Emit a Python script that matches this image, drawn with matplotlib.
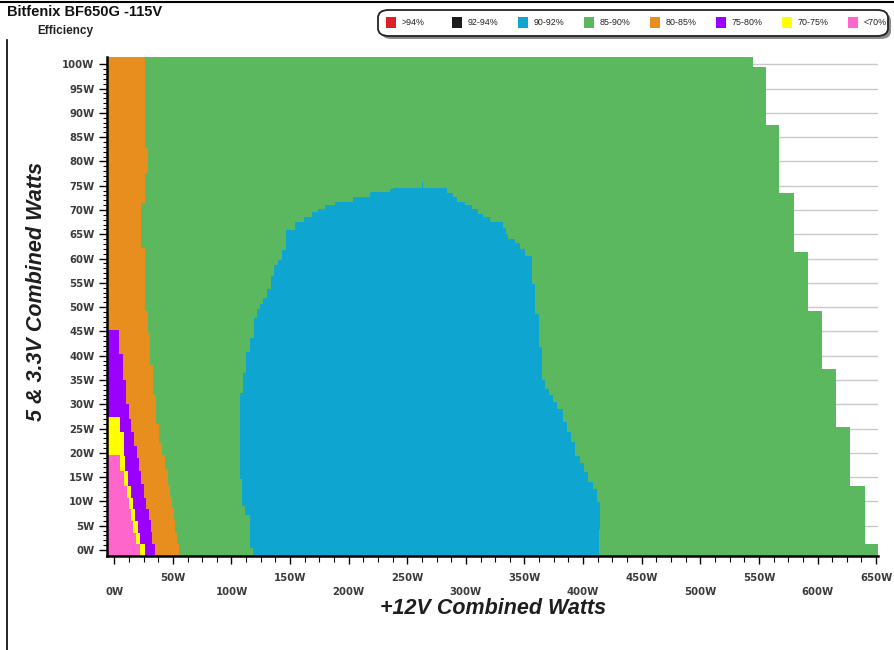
import numpy as np
import matplotlib
matplotlib.use("Agg")
import matplotlib.pyplot as plt
from matplotlib.patches import FancyBboxPatch, Rectangle
from matplotlib.lines import Line2D

# ---------------- data ----------------
TITLE = "Bitfenix BF650G -115V"
SUBTITLE = "Efficiency"
X_LABEL = "+12V Combined Watts"
Y_LABEL = "5 & 3.3V Combined Watts"

LEGEND_LABELS = [">94%", "92-94%", "90-92%", "85-90%", "80-85%", "75-80%", "70-75%", "<70%"]
LEGEND_COLORS = ["#dd1f26", "#1b1b1b", "#0ea5d0", "#5cb85f", "#e88e1f", "#9a00ff", "#ffff00", "#ff66cc"]

X_TICKS = list(range(0, 651, 50))
Y_TICKS = list(range(0, 101, 5))

# Each region boundary is a step function of the 5V&3.3V load:
# *_Y = edges of the steps (W), *_W = +12V load (W) at which the band ends.
MAX_Y = [-1.25, 1.3, 13.25, 25.3, 37.3, 49.3, 61.3, 73.4, 87.4, 99.4, 101.4]
MAX_W = [651.3, 640.3, 627.7, 615.8, 604.1, 592.2, 580.0, 567.4, 555.8, 544.7]

ORANGE_Y = [-1.25, 1.2, 3.5, 6.2, 8.6, 10.8, 13.4, 16.5, 19.5, 22.0, 26.0, 32.0,
            38.0, 44.6, 49.1, 62.2, 71.4, 77.7, 82.8, 101.4]
ORANGE_W = [55.3, 53.5, 52.0, 50.6, 49.3, 47.6, 45.8, 43.5, 40.8, 38.3, 35.3, 33.0,
            30.6, 29.0, 25.9, 23.0, 25.9, 28.7, 25.9]

PURPLE_Y = [-1.25, 1.2, 3.6, 6.2, 8.4, 10.6, 13.5, 16.2, 19.0, 21.5, 24.2, 27.0,
            30.0, 35.0, 40.3, 45.3]
PURPLE_W = [34.4, 32.2, 31.0, 29.3, 27.4, 25.0, 22.9, 20.9, 19.0, 16.5, 14.5, 12.5,
            10.0, 7.2, 4.3]

YELLOW_Y = [-1.25, 1.2, 3.4, 6.0, 8.4, 10.6, 13.1, 16.2, 19.4, 24.2, 27.4]
YELLOW_W = [25.9, 22.2, 20.2, 18.0, 16.0, 14.0, 12.0, 9.5, 8.0, 4.6]

PINK_Y = [-1.25, 1.2, 3.4, 6.0, 8.4, 10.6, 13.1, 16.2, 19.5]
PINK_W = [22.2, 18.5, 16.4, 14.5, 12.4, 10.8, 8.0, 5.0]

BLUE_LEFT_Y = [-1.25, 0.3, 7.1, 9.1, 14.7, 32.4, 36.5, 40.7, 43.7, 47.7, 49.7, 50.7,
               51.8, 53.8, 56.5, 58.6, 59.6, 61.7, 65.9, 67.6, 68.6, 69.6, 70.3,
               71.0, 71.7, 72.7, 73.8, 74.4, 74.6, 75.7]
BLUE_LEFT_W = [118.3, 115.4, 111.7, 108.9, 106.9, 109.8, 112.6, 116.0, 118.8, 121.7,
               124.5, 126.8, 130.2, 133.6, 136.5, 139.9, 143.0, 146.7, 154.4, 161.5,
               168.6, 174.2, 180.0, 188.5, 204.1, 218.3, 235.4, 238.2, 262.4]

BLUE_RIGHT_Y = [-1.25, 4.3, 9.8, 12.6, 13.9, 16.0, 18.0, 19.4, 22.2, 24.2, 26.3, 29.1,
                30.4, 31.8, 33.2, 34.9, 41.7, 48.6, 54.8, 60.6, 62.0, 63.1, 64.1,
                65.1, 66.2, 67.6, 68.6, 69.1, 70.3, 71.0, 71.7, 72.7, 73.4, 74.6, 75.7]
BLUE_RIGHT_W = [413.6, 414.5, 411.7, 408.3, 404.5, 400.9, 397.4, 393.2, 389.5, 386.1,
                382.7, 378.1, 374.7, 371.3, 367.6, 364.8, 362.7, 359.1, 356.2, 350.5,
                346.3, 342.0, 336.0, 334.0, 332.0, 320.6, 315.0, 310.7, 305.0, 299.3,
                292.2, 289.4, 283.7, 263.8]

X_MIN, X_MAX = -6.2, 651.6
Y_MIN, Y_MAX = -1.25, 101.5

# ---------------- figure ----------------
W_PX, H_PX = 894, 650
fig = plt.figure(figsize=(W_PX / 100, H_PX / 100), dpi=100)
fig.patch.set_facecolor("white")


def fx(px):
    return px / W_PX


def fy(py):
    return 1 - py / H_PX


ax = fig.add_axes([fx(107), fy(556), (878 - 107) / W_PX, (556 - 57) / H_PX])
ax.set_xlim(X_MIN, X_MAX)
ax.set_ylim(Y_MIN, Y_MAX)
ax.set_facecolor("white")


def step_band(edges, values, color, z):
    edges = np.asarray(edges, float)
    values = np.asarray(values, float)
    ax.barh(edges[:-1], values - X_MIN, left=X_MIN, height=np.diff(edges),
            align="edge", color=color, linewidth=0, antialiased=False, zorder=z)


step_band(MAX_Y, MAX_W, LEGEND_COLORS[3], 2)
step_band(ORANGE_Y, ORANGE_W, LEGEND_COLORS[4], 3)
step_band(PURPLE_Y, PURPLE_W, LEGEND_COLORS[5], 4)
step_band(YELLOW_Y, YELLOW_W, LEGEND_COLORS[6], 5)
step_band(PINK_Y, PINK_W, LEGEND_COLORS[7], 6)

# blue island: union of the left / right step edges
ly = np.asarray(BLUE_LEFT_Y, float)
ry = np.asarray(BLUE_RIGHT_Y, float)
edges = np.union1d(ly, ry)
lo, hi = edges[:-1], edges[1:]
mid = (lo + hi) / 2
li = np.searchsorted(ly, mid) - 1
ri = np.searchsorted(ry, mid) - 1
lw = np.asarray(BLUE_LEFT_W)[np.clip(li, 0, len(BLUE_LEFT_W) - 1)]
rw = np.asarray(BLUE_RIGHT_W)[np.clip(ri, 0, len(BLUE_RIGHT_W) - 1)]
ok = (li >= 0) & (li < len(BLUE_LEFT_W)) & (ri >= 0) & (ri < len(BLUE_RIGHT_W)) & (rw > lw)
ax.barh(lo[ok], (rw - lw)[ok], left=lw[ok], height=(hi - lo)[ok], align="edge",
        color=LEGEND_COLORS[2], linewidth=0, antialiased=False, zorder=7)

# grid, spines, ticks
ax.set_axisbelow(True)
ax.yaxis.grid(True, which="major", color="#c9c9c9", linewidth=1.0, zorder=0)
ax.xaxis.grid(False)
for s in ("top", "right"):
    ax.spines[s].set_visible(False)
for s in ("left", "bottom"):
    ax.spines[s].set_linewidth(1.8)
    ax.spines[s].set_color("black")
    ax.spines[s].set_zorder(10)

tick_font = dict(family="DejaVu Sans", size=7.3, weight="bold")
ax.set_yticks(Y_TICKS)
ax.set_yticklabels([f"{v}W" for v in Y_TICKS], color="#3a3a3a", **tick_font)
ax.set_yticks(np.arange(0, 101, 1), minor=True)
ax.tick_params(axis="y", which="major", direction="out", length=6, width=1.0, pad=3)
ax.tick_params(axis="y", which="minor", direction="out", length=3, width=0.8)

ax.set_xticks(X_TICKS)
ax.set_xticklabels([("\n" if v % 100 == 0 else "") + f"{v}W" for v in X_TICKS],
                   color="#3a3a3a", **tick_font)
for t in ax.get_xticklabels():
    t.set_linespacing(1.55)
ax.set_xticks(np.arange(0, 651, 12.5), minor=True)
ax.tick_params(axis="x", which="major", direction="out", length=6, width=1.0, pad=6)
ax.tick_params(axis="x", which="minor", direction="out", length=4, width=0.8)

# axis titles
lab_font = dict(family=["Liberation Sans", "DejaVu Sans"], weight="bold", style="italic",
                size=15.5, color="#1e1e1e")
fig.text(fx(493), fy(609), X_LABEL, ha="center", va="center", **lab_font)
fig.text(fx(37), fy(291), Y_LABEL, ha="center", va="center", rotation=90, **lab_font)

# title
narrow = ["Liberation Sans Narrow", "Liberation Sans", "DejaVu Sans"]
fig.text(fx(7), fy(12), TITLE, ha="left", va="center", family=narrow, weight="bold",
         size=10.5, color="#111111")
fig.text(fx(37), fy(31), SUBTITLE, ha="left", va="center", family=narrow, weight="bold",
         size=8.5, color="#222222")

# frame lines of the picture
fig.add_artist(Line2D([0, 1], [fy(1.5), fy(1.5)], transform=fig.transFigure,
                      color="black", linewidth=1.5))
fig.add_artist(Line2D([fx(7), fx(7)], [fy(40), 0], transform=fig.transFigure,
                      color="black", linewidth=1.2))

# legend box
bx0, by0, bx1, by1 = 378, 10, 888, 36
shadow = FancyBboxPatch((fx(bx0 + 3), fy(by1 + 3)), fx(bx1 - bx0), (by1 - by0) / H_PX,
                        boxstyle="round,pad=0,rounding_size=0.012",
                        transform=fig.transFigure, facecolor="#8a8a8a",
                        edgecolor="none", zorder=20)
box = FancyBboxPatch((fx(bx0), fy(by1)), fx(bx1 - bx0), (by1 - by0) / H_PX,
                     boxstyle="round,pad=0,rounding_size=0.012",
                     transform=fig.transFigure, facecolor="white",
                     edgecolor="#222222", linewidth=1.3, zorder=21)
fig.add_artist(shadow)
fig.add_artist(box)
step = 66.0
for i, (lab, col) in enumerate(zip(LEGEND_LABELS, LEGEND_COLORS)):
    sx = 386 + step * i
    fig.add_artist(Rectangle((fx(sx), fy(28)), fx(10), 11 / H_PX, transform=fig.transFigure,
                             facecolor=col, edgecolor="none", zorder=22))
    fig.text(fx(sx + 16), fy(22.5), lab, ha="left", va="center", family=narrow,
             size=6.4, color="#222222", zorder=23)

fig.savefig("out.png", dpi=100, facecolor="white")
